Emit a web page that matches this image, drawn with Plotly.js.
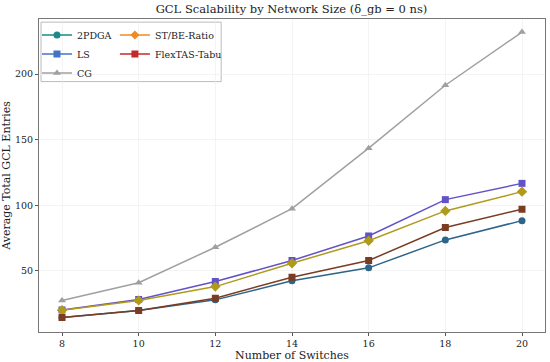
<!DOCTYPE html>
<html><head><meta charset="utf-8">
<script src="https://cdn.plot.ly/plotly-3.0.1.min.js"></script>
<style>html,body{margin:0;padding:0;background:#fff}#c{width:550px;height:362px}</style>
</head><body><div id="c"></div>
<script>
const switches = [8, 10, 12, 14, 16, 18, 20];
const pdga2 = [14.5, 19.8, 27.9, 42.4, 52.3, 73.6, 88.3];
const ls = [20.2, 28.2, 41.9, 57.9, 76.6, 104.3, 116.7];
const cg = [27.4, 41.0, 68.0, 97.4, 143.5, 191.5, 232.0];
const stbe = [20.0, 27.5, 38.0, 55.8, 73.0, 95.7, 110.4];
const flextas = [14.5, 19.8, 29.2, 45.2, 57.9, 83.0, 97.0];
const names = ["2PDGA", "LS", "CG", "ST/BE-Ratio", "FlexTAS-Tabu"];
const lineColors = ["#2e6488", "#6252c8", "#a0a0a0", "#b09a1c", "#7a3c22"];
const legendColors = ["#1a8a8a", "#4472c4", "#a0a0a0", "#f08a24", "#c42a2a"];
const symbols = ["circle", "square", "triangle-up", "diamond", "square-x"];
const series = [pdga2, ls, cg, stbe, flextas];

const font = "DejaVu Serif, serif";
const traces = [];
series.forEach((ys, i) => {
  traces.push({x: switches, y: ys, mode: "lines+markers", name: names[i], showlegend: false,
    line: {color: lineColors[i], width: 1.5},
    marker: {color: lineColors[i], symbol: symbols[i], size: i === 3 ? 8 : 7}});
});
// legend entries (two columns like the reference)
series.forEach((ys, i) => {
  traces.push({x: [null], y: [null], mode: "lines+markers", name: names[i],
    legend: i < 3 ? "legend" : "legend2",
    line: {color: legendColors[i], width: 1.5},
    marker: {color: legendColors[i], symbol: symbols[i], size: 7}});
});

const legFont = {family: font, size: 9.5, color: "#222"};
const layout = {
  width: 550, height: 362,
  margin: {l: 39, r: 5, t: 19, b: 30},
  paper_bgcolor: "#fff", plot_bgcolor: "#fff",
  font: {family: font, size: 10, color: "#222"},
  title: {text: "GCL Scalability by Network Size (δ_gb = 0 ns)", font: {family: font, size: 11.5, color: "#222"},
    x: 0.53, xanchor: "center", y: 0.985, yanchor: "top"},
  xaxis: {range: [7.4, 20.6], tickvals: switches, ticks: "outside", ticklen: 3, tickcolor: "#555",
    showgrid: true, gridcolor: "#ececec", gridwidth: 0.6, zeroline: false,
    showline: true, linecolor: "#777", linewidth: 1, mirror: true,
    tickfont: {family: font, size: 9.5, color: "#222"},
    title: {text: "Number of Switches", font: {family: font, size: 11, color: "#222"}, standoff: 4}},
  yaxis: {range: [3.4, 242], tickvals: [50, 100, 150, 200], ticks: "outside", ticklen: 3, tickcolor: "#555",
    showgrid: true, gridcolor: "#ececec", gridwidth: 0.6, zeroline: false,
    showline: true, linecolor: "#777", linewidth: 1, mirror: true,
    tickfont: {family: font, size: 9.5, color: "#222"},
    title: {text: "Average Total GCL Entries", font: {family: font, size: 11, color: "#222"}, standoff: 4}},
  legend: {x: -0.004, y: 0.995, xanchor: "left", yanchor: "top", bgcolor: "rgba(0,0,0,0)",
    font: legFont, tracegroupgap: 0, itemwidth: 30, borderwidth: 0},
  legend2: {x: 0.15, y: 0.995, xanchor: "left", yanchor: "top", bgcolor: "rgba(0,0,0,0)",
    font: legFont, tracegroupgap: 0, itemwidth: 30, borderwidth: 0},
  shapes: [{type: "rect", xref: "paper", yref: "paper", x0: 0.004, x1: 0.36, y0: 0.80, y1: 0.99,
    line: {color: "#bbb", width: 1}, fillcolor: "rgba(255,255,255,0.8)", layer: "below"}]
};
Plotly.newPlot("c", traces, layout, {displayModeBar: false, staticPlot: true});
</script></body></html>
